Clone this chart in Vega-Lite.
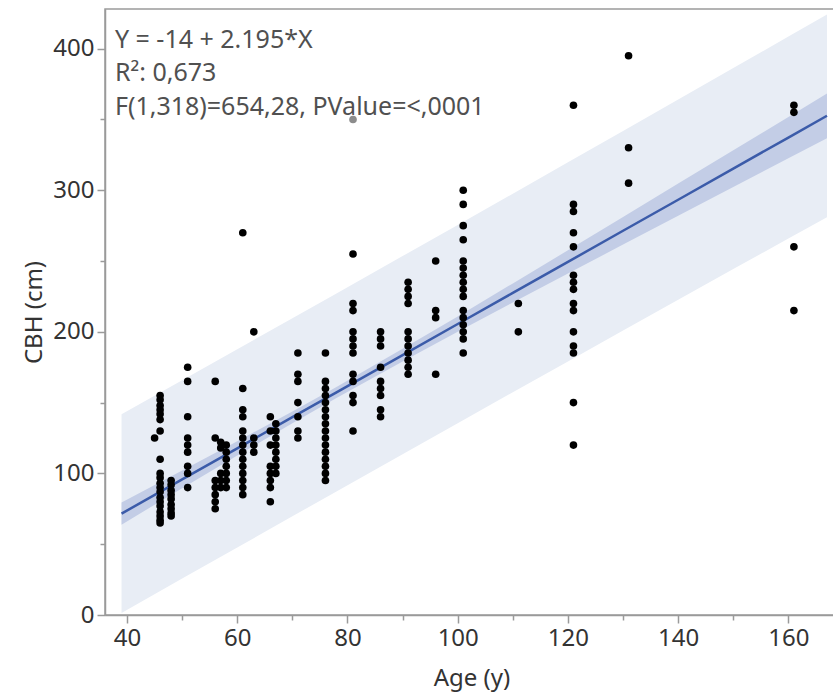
{
  "$schema": "https://vega.github.io/schema/vega-lite/v6.json",
  "autosize": {"type": "none"},
  "padding": {"left": 105, "top": 9, "right": 0, "bottom": 85},
  "width": 733,
  "height": 606,
  "background": "white",
  "config": {
    "view": {"stroke": "#9a9a9a", "strokeWidth": 1.5},
    "font": "Noto Sans",
    "axis": {
      "grid": false,
      "domainColor": "#9a9a9a",
      "domainWidth": 1.5,
      "tickColor": "#9a9a9a",
      "tickWidth": 1.5,
      "labelFont": "Noto Sans",
      "labelFontSize": 24,
      "labelColor": "#333333",
      "titleFont": "Noto Sans",
      "titleFontSize": 24,
      "titleFontWeight": "normal",
      "titleColor": "#333333"
    }
  },
  "datasets": {
    "points": [
      {"age": 45, "cbh": 125},
      {"age": 46, "cbh": 155}, {"age": 46, "cbh": 152}, {"age": 46, "cbh": 148}, {"age": 46, "cbh": 145}, {"age": 46, "cbh": 142}, {"age": 46, "cbh": 138}, {"age": 46, "cbh": 130}, {"age": 46, "cbh": 110}, {"age": 46, "cbh": 100}, {"age": 46, "cbh": 97}, {"age": 46, "cbh": 93}, {"age": 46, "cbh": 90}, {"age": 46, "cbh": 87}, {"age": 46, "cbh": 83}, {"age": 46, "cbh": 80}, {"age": 46, "cbh": 77}, {"age": 46, "cbh": 73}, {"age": 46, "cbh": 70}, {"age": 46, "cbh": 67}, {"age": 46, "cbh": 65},
      {"age": 48, "cbh": 95}, {"age": 48, "cbh": 92}, {"age": 48, "cbh": 88}, {"age": 48, "cbh": 85}, {"age": 48, "cbh": 82}, {"age": 48, "cbh": 78}, {"age": 48, "cbh": 75}, {"age": 48, "cbh": 72}, {"age": 48, "cbh": 70},
      {"age": 51, "cbh": 175}, {"age": 51, "cbh": 165}, {"age": 51, "cbh": 140}, {"age": 51, "cbh": 125}, {"age": 51, "cbh": 120}, {"age": 51, "cbh": 115}, {"age": 51, "cbh": 105}, {"age": 51, "cbh": 100}, {"age": 51, "cbh": 90},
      {"age": 56, "cbh": 165}, {"age": 56, "cbh": 125}, {"age": 56, "cbh": 95}, {"age": 56, "cbh": 90}, {"age": 56, "cbh": 85}, {"age": 56, "cbh": 80}, {"age": 56, "cbh": 75},
      {"age": 57, "cbh": 122}, {"age": 57, "cbh": 118}, {"age": 57, "cbh": 100}, {"age": 57, "cbh": 95}, {"age": 57, "cbh": 90},
      {"age": 58, "cbh": 120}, {"age": 58, "cbh": 115}, {"age": 58, "cbh": 110}, {"age": 58, "cbh": 105}, {"age": 58, "cbh": 100}, {"age": 58, "cbh": 95}, {"age": 58, "cbh": 90},
      {"age": 61, "cbh": 270}, {"age": 61, "cbh": 160}, {"age": 61, "cbh": 145}, {"age": 61, "cbh": 140}, {"age": 61, "cbh": 130}, {"age": 61, "cbh": 125}, {"age": 61, "cbh": 120}, {"age": 61, "cbh": 115}, {"age": 61, "cbh": 110}, {"age": 61, "cbh": 105}, {"age": 61, "cbh": 100}, {"age": 61, "cbh": 95}, {"age": 61, "cbh": 90}, {"age": 61, "cbh": 85},
      {"age": 63, "cbh": 200}, {"age": 63, "cbh": 125}, {"age": 63, "cbh": 120}, {"age": 63, "cbh": 115},
      {"age": 66, "cbh": 140}, {"age": 66, "cbh": 130}, {"age": 66, "cbh": 120}, {"age": 66, "cbh": 105}, {"age": 66, "cbh": 100}, {"age": 66, "cbh": 95}, {"age": 66, "cbh": 90}, {"age": 66, "cbh": 80},
      {"age": 67, "cbh": 135}, {"age": 67, "cbh": 130}, {"age": 67, "cbh": 125}, {"age": 67, "cbh": 120}, {"age": 67, "cbh": 115}, {"age": 67, "cbh": 110}, {"age": 67, "cbh": 105}, {"age": 67, "cbh": 100},
      {"age": 71, "cbh": 185}, {"age": 71, "cbh": 170}, {"age": 71, "cbh": 165}, {"age": 71, "cbh": 150}, {"age": 71, "cbh": 140}, {"age": 71, "cbh": 130}, {"age": 71, "cbh": 125},
      {"age": 76, "cbh": 185}, {"age": 76, "cbh": 165}, {"age": 76, "cbh": 160}, {"age": 76, "cbh": 155}, {"age": 76, "cbh": 150}, {"age": 76, "cbh": 145}, {"age": 76, "cbh": 140}, {"age": 76, "cbh": 135}, {"age": 76, "cbh": 130}, {"age": 76, "cbh": 125}, {"age": 76, "cbh": 120}, {"age": 76, "cbh": 115}, {"age": 76, "cbh": 110}, {"age": 76, "cbh": 105}, {"age": 76, "cbh": 100}, {"age": 76, "cbh": 95},
      {"age": 81, "cbh": 350}, {"age": 81, "cbh": 255}, {"age": 81, "cbh": 220}, {"age": 81, "cbh": 215}, {"age": 81, "cbh": 200}, {"age": 81, "cbh": 195}, {"age": 81, "cbh": 190}, {"age": 81, "cbh": 185}, {"age": 81, "cbh": 170}, {"age": 81, "cbh": 165}, {"age": 81, "cbh": 155}, {"age": 81, "cbh": 150}, {"age": 81, "cbh": 130},
      {"age": 86, "cbh": 200}, {"age": 86, "cbh": 195}, {"age": 86, "cbh": 190}, {"age": 86, "cbh": 175}, {"age": 86, "cbh": 165}, {"age": 86, "cbh": 160}, {"age": 86, "cbh": 155}, {"age": 86, "cbh": 145}, {"age": 86, "cbh": 140},
      {"age": 91, "cbh": 235}, {"age": 91, "cbh": 230}, {"age": 91, "cbh": 225}, {"age": 91, "cbh": 220}, {"age": 91, "cbh": 200}, {"age": 91, "cbh": 195}, {"age": 91, "cbh": 190}, {"age": 91, "cbh": 185}, {"age": 91, "cbh": 180}, {"age": 91, "cbh": 175}, {"age": 91, "cbh": 170},
      {"age": 96, "cbh": 250}, {"age": 96, "cbh": 215}, {"age": 96, "cbh": 210}, {"age": 96, "cbh": 170},
      {"age": 101, "cbh": 300}, {"age": 101, "cbh": 290}, {"age": 101, "cbh": 275}, {"age": 101, "cbh": 265}, {"age": 101, "cbh": 250}, {"age": 101, "cbh": 245}, {"age": 101, "cbh": 240}, {"age": 101, "cbh": 235}, {"age": 101, "cbh": 230}, {"age": 101, "cbh": 225}, {"age": 101, "cbh": 215}, {"age": 101, "cbh": 210}, {"age": 101, "cbh": 205}, {"age": 101, "cbh": 200}, {"age": 101, "cbh": 195}, {"age": 101, "cbh": 185},
      {"age": 111, "cbh": 220}, {"age": 111, "cbh": 200},
      {"age": 121, "cbh": 360}, {"age": 121, "cbh": 290}, {"age": 121, "cbh": 285}, {"age": 121, "cbh": 270}, {"age": 121, "cbh": 260}, {"age": 121, "cbh": 240}, {"age": 121, "cbh": 235}, {"age": 121, "cbh": 230}, {"age": 121, "cbh": 220}, {"age": 121, "cbh": 215}, {"age": 121, "cbh": 200}, {"age": 121, "cbh": 190}, {"age": 121, "cbh": 185}, {"age": 121, "cbh": 150}, {"age": 121, "cbh": 120},
      {"age": 131, "cbh": 395}, {"age": 131, "cbh": 330}, {"age": 131, "cbh": 305},
      {"age": 161, "cbh": 360}, {"age": 161, "cbh": 355}, {"age": 161, "cbh": 260}, {"age": 161, "cbh": 215}
    ],
    "fit": [
      {"age": 39, "fit": 71.6, "ciLo": 63.8, "ciHi": 79.4, "piLo": 1.4, "piHi": 141.8},
      {"age": 50, "fit": 95.8, "ciLo": 89.6, "ciHi": 102.0, "piLo": 25.7, "piHi": 165.8},
      {"age": 60, "fit": 117.7, "ciLo": 112.7, "ciHi": 122.7, "piLo": 47.7, "piHi": 187.7},
      {"age": 70, "fit": 139.7, "ciLo": 135.5, "ciHi": 143.8, "piLo": 69.7, "piHi": 209.6},
      {"age": 78, "fit": 157.2, "ciLo": 153.3, "ciHi": 161.1, "piLo": 87.3, "piHi": 227.1},
      {"age": 90, "fit": 183.6, "ciLo": 179.1, "ciHi": 188.0, "piLo": 113.6, "piHi": 253.5},
      {"age": 100, "fit": 205.5, "ciLo": 200.1, "ciHi": 210.9, "piLo": 135.5, "piHi": 275.5},
      {"age": 110, "fit": 227.5, "ciLo": 220.7, "ciHi": 234.2, "piLo": 157.3, "piHi": 297.6},
      {"age": 120, "fit": 249.4, "ciLo": 241.2, "ciHi": 257.6, "piLo": 179.1, "piHi": 319.7},
      {"age": 130, "fit": 271.4, "ciLo": 261.6, "ciHi": 281.1, "piLo": 200.9, "piHi": 341.8},
      {"age": 140, "fit": 293.3, "ciLo": 282.0, "ciHi": 304.7, "piLo": 222.6, "piHi": 364.0},
      {"age": 150, "fit": 315.3, "ciLo": 302.3, "ciHi": 328.2, "piLo": 244.3, "piHi": 386.3},
      {"age": 160, "fit": 337.2, "ciLo": 322.6, "ciHi": 351.8, "piLo": 265.9, "piHi": 408.5},
      {"age": 167, "fit": 352.6, "ciLo": 336.8, "ciHi": 368.4, "piLo": 281.0, "piHi": 424.2}
    ],
    "stats": [
      {"line": "Y = -14 + 2.195*X", "pos": 406},
      {"line": "R²: 0,673", "pos": 382.5},
      {"line": "F(1,318)=654,28, PValue=<,0001", "pos": 358.5}
    ]
  },
  "layer": [
    {
      "data": {"name": "fit"},
      "mark": {"type": "area", "color": "#e8edf5", "opacity": 1, "clip": true},
      "encoding": {
        "x": {"field": "age", "type": "quantitative", "scale": {"domain": [36, 169], "nice": false, "zero": false},
              "axis": {"title": "Age (y)", "values": [40, 50, 60, 70, 80, 90, 100, 110, 120, 130, 140, 150, 160],
                       "labelExpr": "datum.value % 20 === 0 ? datum.label : ''",
                       "tickSize": {"condition": {"test": "datum.value % 20 === 0", "value": 8}, "value": 5},
                       "labelPadding": 3, "titlePadding": 16}},
        "y": {"field": "piLo", "type": "quantitative", "scale": {"domain": [0, 428], "nice": false, "zero": true},
              "axis": {"title": "CBH (cm)", "values": [0, 50, 100, 150, 200, 250, 300, 350, 400],
                       "labelExpr": "datum.value % 100 === 0 ? datum.label : ''",
                       "tickSize": {"condition": {"test": "datum.value % 100 === 0", "value": 8}, "value": 5},
                       "labelPadding": 3, "titlePadding": 6}},
        "y2": {"field": "piHi"}
      }
    },
    {
      "data": {"name": "fit"},
      "mark": {"type": "area", "color": "#c3cde6", "opacity": 1, "clip": true},
      "encoding": {
        "x": {"field": "age", "type": "quantitative"},
        "y": {"field": "ciLo", "type": "quantitative"},
        "y2": {"field": "ciHi"}
      }
    },
    {
      "data": {"name": "fit"},
      "mark": {"type": "line", "color": "#3b5ba9", "strokeWidth": 2.5, "clip": true},
      "encoding": {
        "x": {"field": "age", "type": "quantitative"},
        "y": {"field": "fit", "type": "quantitative"}
      }
    },
    {
      "data": {"name": "points"},
      "mark": {"type": "circle", "size": 58, "opacity": 1},
      "encoding": {
        "x": {"field": "age", "type": "quantitative"},
        "y": {"field": "cbh", "type": "quantitative"},
        "color": {"condition": {"test": "datum.cbh === 350", "value": "#8c8c8c"}, "value": "#000000"}
      }
    },
    {
      "data": {"name": "stats"},
      "mark": {"type": "text", "align": "left", "baseline": "middle", "font": "Noto Sans", "fontSize": 25, "color": "#505050"},
      "encoding": {
        "x": {"datum": 37.8, "type": "quantitative"},
        "y": {"field": "pos", "type": "quantitative"},
        "text": {"field": "line"}
      }
    }
  ]
}
